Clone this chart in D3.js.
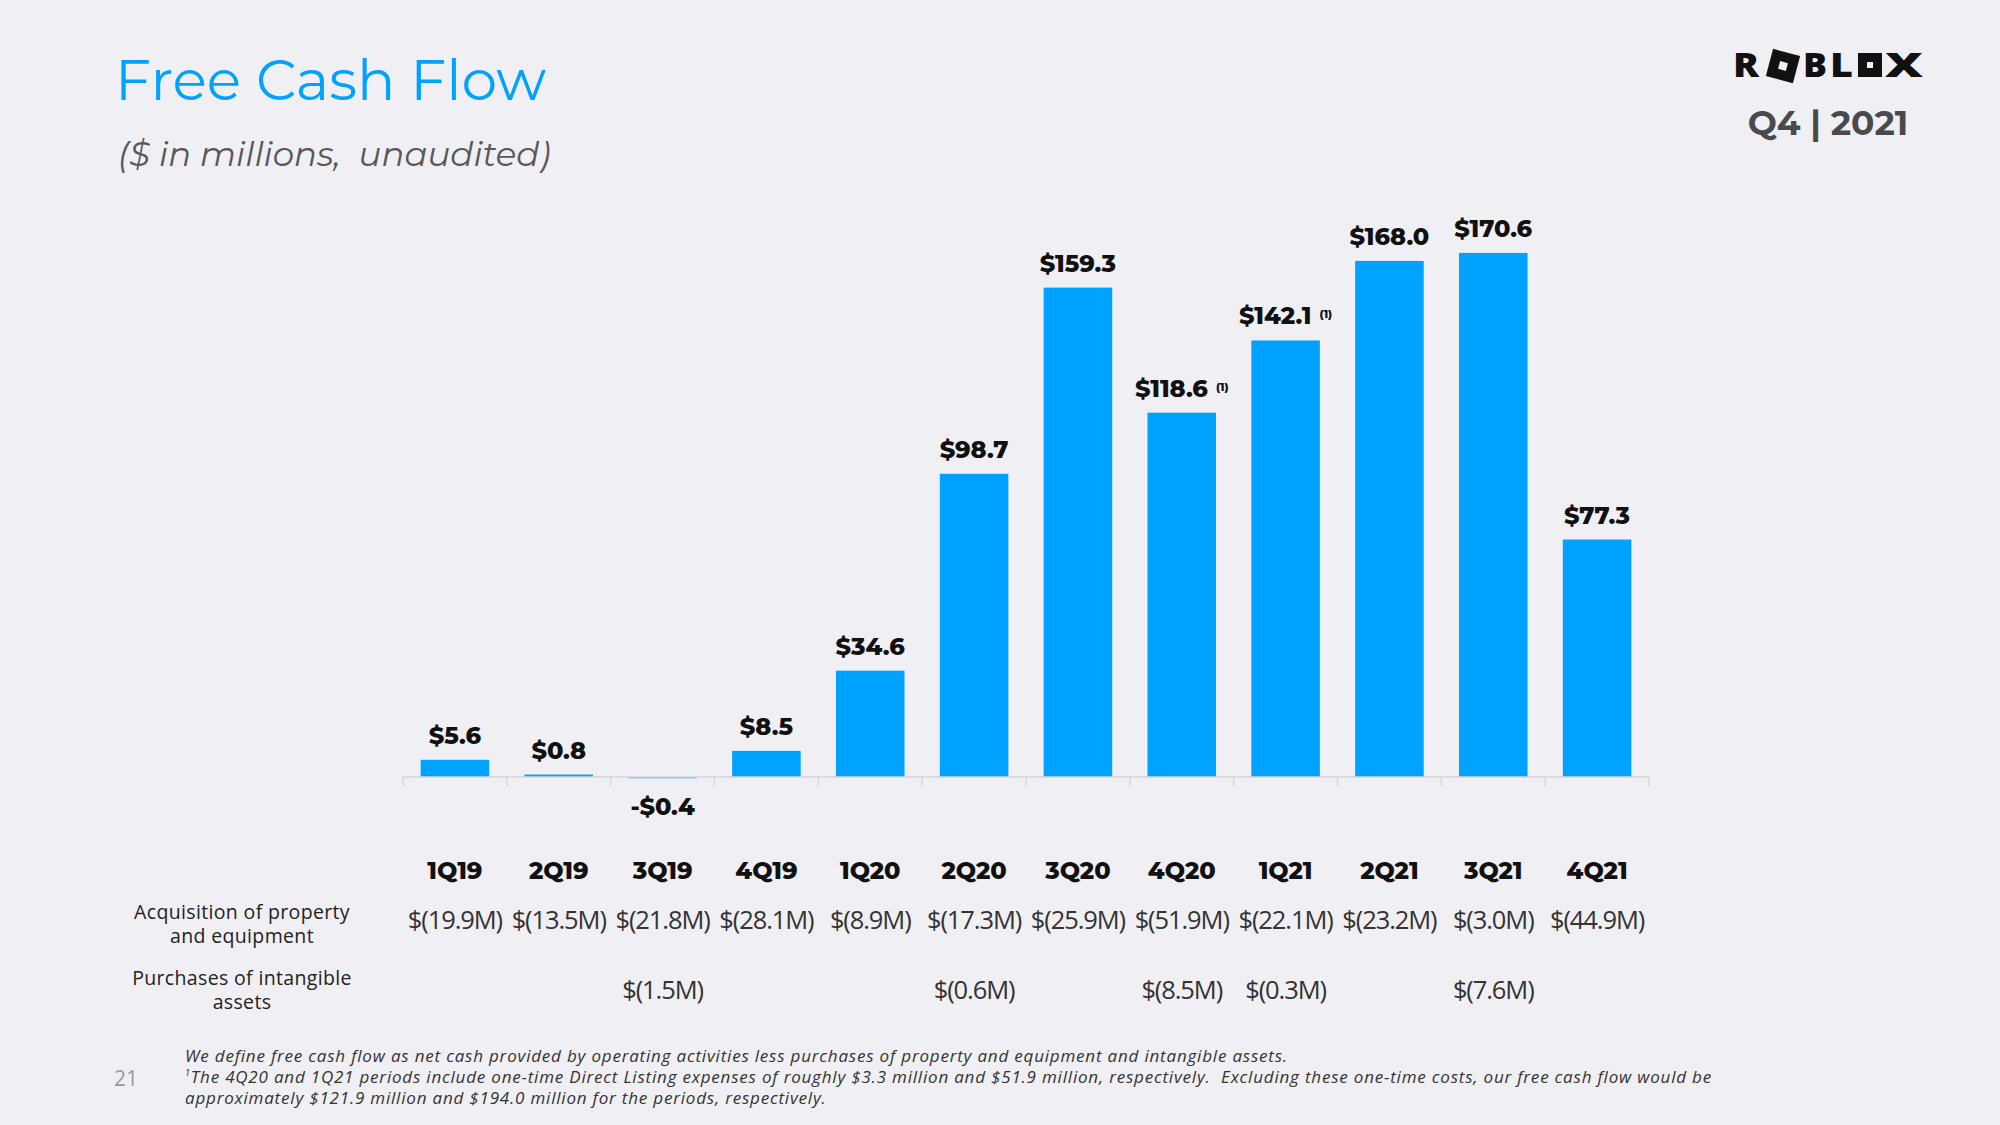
<!DOCTYPE html>
<html><head><meta charset="utf-8">
<script src="https://cdn.jsdelivr.net/npm/d3@7"></script>
<style>
html,body{margin:0;padding:0;background:#f0eff4;}
svg{display:block;}
</style></head>
<body>
<svg id="c" width="2000" height="1125"></svg>
<script>
const categories = ["1Q19","2Q19","3Q19","4Q19","1Q20","2Q20","3Q20","4Q20","1Q21","2Q21","3Q21","4Q21"];
const freeCashFlow = [5.6, 0.8, -0.4, 8.5, 34.6, 98.7, 159.3, 118.6, 142.1, 168.0, 170.6, 77.3];
const valueLabels = ["$5.6","$0.8","-$0.4","$8.5","$34.6","$98.7","$159.3","$118.6","$142.1","$168.0","$170.6","$77.3"];
const footnoteMark = [false,false,false,false,false,false,false,true,true,false,false,false];
const acquisitionPPE = ["$(19.9M)","$(13.5M)","$(21.8M)","$(28.1M)","$(8.9M)","$(17.3M)","$(25.9M)","$(51.9M)","$(22.1M)","$(23.2M)","$(3.0M)","$(44.9M)"];
const intangibles = ["","","$(1.5M)","","","$(0.6M)","","$(8.5M)","$(0.3M)","","$(7.6M)",""];
const rowLabels = [["Acquisition of property","and equipment"],["Purchases of intangible","assets"]];
const footnotes = [
  "We define free cash flow as net cash provided by operating activities less purchases of property and equipment and intangible assets.",
  "The 4Q20 and 1Q21 periods include one-time Direct Listing expenses of roughly $3.3 million and $51.9 million, respectively.\u00a0 Excluding these one-time costs, our free cash flow would be",
  "approximately $121.9 million and $194.0 million for the periods, respectively."
];

const BLUE = "#00a2ff";
const BG = "#f0eff4";
const svg = d3.select("#c");
const W = 2000, H = 1125;
svg.append("rect").attr("width", W).attr("height", H).attr("fill", BG);

// Title
svg.append("text").attr("x", 115).attr("y", 100)
  .attr("font-family", "Montserrat, 'Open Sans', sans-serif").attr("font-size", 56.8)
  .attr("fill", BLUE).text("Free Cash Flow");
svg.append("text").attr("x", 118).attr("y", 166)
  .attr("font-family", "Montserrat, 'Open Sans', sans-serif").attr("font-size", 34)
  .attr("font-style", "italic").attr("fill", "#58585a").text("($ in millions,\u00a0 unaudited)");

// Logo
const logo = svg.append("g").attr("fill", "#111");
function lt(x, w, s){
  return logo.append("text").attr("x", x).attr("y", 77).attr("textLength", w).attr("lengthAdjust", "spacingAndGlyphs")
    .attr("font-family", "'Open Sans', sans-serif").attr("font-weight", 800).attr("font-size", 33).text(s);
}
lt(1733, 26, "R");
logo.append("rect").attr("x", -14).attr("y", -14).attr("width", 28).attr("height", 28)
  .attr("transform", "translate(1783,66) rotate(15)");
logo.append("rect").attr("x", -4).attr("y", -4).attr("width", 8).attr("height", 8).attr("fill", BG)
  .attr("transform", "translate(1783,66) rotate(15)");
lt(1803, 24, "B");
lt(1830, 23, "L");
logo.append("rect").attr("x", 1858).attr("y", 53).attr("width", 24).attr("height", 24);
logo.append("rect").attr("x", 1867).attr("y", 62).attr("width", 6).attr("height", 6).attr("fill", BG);
lt(1885, 38, "X");
svg.append("text").attr("x", 1828).attr("y", 135).attr("text-anchor", "middle")
  .attr("font-family", "Montserrat, 'Open Sans', sans-serif").attr("font-weight", 700).attr("font-size", 34.5)
  .attr("fill", "#4a4a4c").text("Q4 | 2021");

// Scales
const x = d3.scaleBand().domain(categories).range([403, 1649]).paddingInner(0.34).paddingOuter(0.17);
const y = d3.scaleLinear().domain([0, 180]).range([777, 777 - 180 * 3.072]);

// Bars
svg.append("g").selectAll("rect").data(freeCashFlow).join("rect")
  .attr("x", (d, i) => x(categories[i]))
  .attr("width", x.bandwidth())
  .attr("y", d => d >= 0 ? y(d) : y(0))
  .attr("height", d => Math.abs(y(d) - y(0)))
  .attr("fill", BLUE);

// Axis line and boundary ticks (at category boundaries)
const ax = svg.append("g").attr("stroke", "#d6d4d8").attr("stroke-width", 1.5);
const [r0, r1] = x.range();
ax.append("line").attr("x1", r0).attr("x2", r1).attr("y1", y(0)).attr("y2", y(0));
ax.selectAll("line.tk").data(d3.range(categories.length + 1)).join("line").attr("class","tk")
  .attr("x1", i => r0 + i * x.step()).attr("x2", i => r0 + i * x.step())
  .attr("y1", y(0)).attr("y2", y(0) + 9);

// Value labels
const vl = svg.append("g").attr("font-family", "Montserrat, 'Open Sans', sans-serif")
  .attr("font-weight", 800).attr("font-size", 24).attr("fill", "#111").attr("text-anchor", "middle");
freeCashFlow.forEach((d, i) => {
  const cx = x(categories[i]) + x.bandwidth() / 2;
  const t = vl.append("text").attr("x", cx).attr("y", d >= 0 ? y(d) - 16 : y(0) + 38);
  t.append("tspan").text(valueLabels[i]);
  if (footnoteMark[i]) t.append("tspan").attr("font-size", 11).attr("dx", 8).attr("dy", -6).text("(1)");
});

// Category axis labels
const xAxis = d3.axisBottom(x).tickSize(0).tickPadding(0);
const gx = svg.append("g").attr("transform", "translate(0,862)").call(xAxis);
gx.select(".domain").remove();
gx.selectAll("text").attr("font-family", "Montserrat, 'Open Sans', sans-serif")
  .attr("font-weight", 800).attr("font-size", 24).attr("fill", "#111");

// Table rows
const tf = "'Open Sans', sans-serif";
function row(vals, yy) {
  svg.append("g").selectAll("text").data(vals).join("text")
    .attr("x", (d, i) => x(categories[i]) + x.bandwidth() / 2).attr("y", yy)
    .attr("text-anchor", "middle").attr("font-family", tf).attr("font-size", 25.5)
    .attr("letter-spacing", -1.1).attr("fill", "#333").text(d => d);
}
row(acquisitionPPE, 929);
row(intangibles, 999);
rowLabels.forEach((lines, r) => {
  lines.forEach((s, j) => {
    svg.append("text").attr("x", 242).attr("y", [919, 985][r] + j * 23.5).attr("text-anchor", "middle")
      .attr("font-family", tf).attr("font-size", 19.5).attr("letter-spacing", 0.35).attr("fill", "#222").text(s);
  });
});

// Footnotes
svg.append("text").attr("x", 114).attr("y", 1086).attr("font-family", tf).attr("font-size", 21)
  .attr("fill", "#9a9a9e").text("21");
footnotes.forEach((s, i) => {
  const t = svg.append("text").attr("x", 185).attr("y", 1062 + i * 21).attr("font-family", tf)
    .attr("font-size", 17).attr("letter-spacing", 0.8).attr("font-style", "italic").attr("fill", "#333");
  if (i === 1) t.append("tspan").attr("font-size", 9).attr("dy", -7).text("1");
  t.append("tspan").attr("dy", i === 1 ? 7 : 0).text(s);
});
</script>
</body></html>
